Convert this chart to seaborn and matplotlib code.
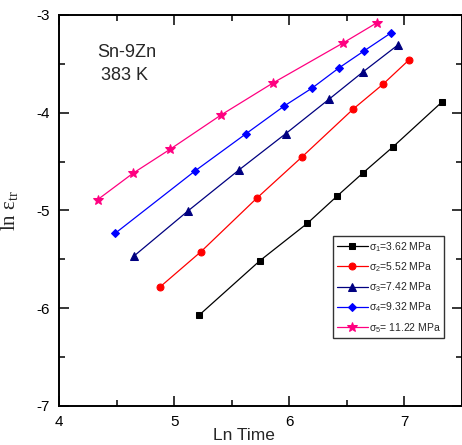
import numpy as np
import pandas as pd
import matplotlib
matplotlib.use("Agg")
import matplotlib.pyplot as plt
import seaborn as sns
from matplotlib.ticker import MultipleLocator

# ---- data ----
labels = [r"$\sigma_1$=3.62 MPa", r"$\sigma_2$=5.52 MPa", r"$\sigma_3$=7.42 MPa",
          r"$\sigma_4$=9.32 MPa", r"$\sigma_5$= 11.22 MPa"]

x1 = [5.215, 5.745, 6.158, 6.417, 6.638, 6.904, 7.325]
y1 = [-6.074, -5.515, -5.132, -4.853, -4.620, -4.348, -3.894]

x2 = [4.876, 5.232, 5.717, 6.108, 6.557, 6.815, 7.043]
y2 = [-5.784, -5.423, -4.876, -4.456, -3.962, -3.709, -3.458]

x3 = [4.650, 5.119, 5.563, 5.969, 6.345, 6.641, 6.945]
y3 = [-5.467, -5.006, -4.586, -4.215, -3.863, -3.583, -3.307]

x4 = [4.487, 5.183, 5.621, 5.957, 6.200, 6.432, 6.650, 6.884]
y4 = [-5.234, -4.594, -4.218, -3.931, -3.747, -3.542, -3.368, -3.184]

x5 = [4.334, 4.641, 4.963, 5.406, 5.858, 6.467, 6.763]
y5 = [-4.890, -4.620, -4.375, -4.024, -3.696, -3.287, -3.079]

xs = [x1, x2, x3, x4, x5]
ys = [y1, y2, y3, y4, y5]
colors = ["#000000", "#ff0000", "#000080", "#0000ff", "#ff0080"]
markers = ["s", "o", "^", "D", "*"]
msizes = [4.5, 5, 5.5, 4.5, 7]

sns.set_theme(style="white")
plt.rcParams["font.family"] = ["Liberation Sans", "DejaVu Sans"]
plt.rcParams["mathtext.fontset"] = "custom"
plt.rcParams["mathtext.rm"] = "Liberation Sans"
plt.rcParams["mathtext.it"] = "Liberation Sans"
plt.rcParams["axes.unicode_minus"] = False

fig = plt.figure(figsize=(4.62, 4.45), dpi=100)
ax = fig.add_axes([0.1284, 0.0883, 0.871, 0.878])

for x, y, c, m, ms, lab in zip(xs, ys, colors, markers, msizes, labels):
    df = pd.DataFrame({"x": x, "y": y})
    sns.lineplot(data=df, x="x", y="y", ax=ax, color=c, marker=m, markersize=ms,
                 markeredgecolor=c, linewidth=0.9, sort=False, estimator=None,
                 label=lab)

ax.set_xlim(4, 7.5)
ax.set_ylim(-7, -3)
ax.xaxis.set_major_locator(MultipleLocator(1))
ax.xaxis.set_minor_locator(MultipleLocator(0.5))
ax.yaxis.set_major_locator(MultipleLocator(1))
ax.yaxis.set_minor_locator(MultipleLocator(0.5))
ax.tick_params(which="both", direction="in", top=True, right=True,
               bottom=True, left=True, colors="black", labelsize=11)
ax.tick_params(which="major", length=7, width=1.1, pad=7)
ax.tick_params(which="minor", length=4, width=1.1)
for s in ax.spines.values():
    s.set_color("black")
    s.set_linewidth(1.4)

ax.set_xlabel("Ln Time", fontsize=12.5)
ax.xaxis.set_label_coords(0.459, -0.056)
ax.set_ylabel(r"ln $\mathregular{\varepsilon_{tr}}$", fontsize=15,
              family=["Liberation Serif", "DejaVu Serif"], labelpad=0)
ax.yaxis.set_label_coords(-0.098, 0.5)

ax.text(0.095, 0.905, "Sn-9Zn", transform=ax.transAxes, fontsize=13,
        va="center", ha="left")
ax.text(0.104, 0.844, "383 K", transform=ax.transAxes, fontsize=13,
        va="center", ha="left")

leg = ax.legend(loc="upper left", bbox_to_anchor=(0.68, 0.434), borderaxespad=0,
                fontsize=7.5, frameon=True, fancybox=False, handlelength=3.0,
                handletextpad=0.1, labelspacing=0.62, borderpad=0.35)
leg.get_frame().set_edgecolor("black")
leg.get_frame().set_linewidth(1.0)

fig.savefig("out.png", dpi=100)
